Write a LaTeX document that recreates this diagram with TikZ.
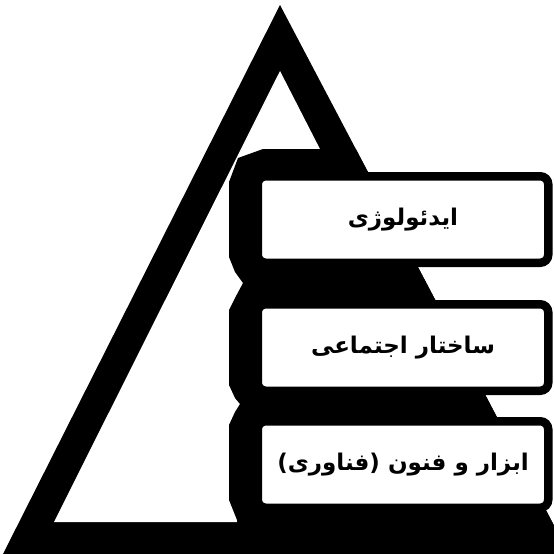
\documentclass[tikz,border=0pt]{standalone}
\usepackage{fontspec}
\newfontfamily\farsi[Script=Arabic]{DejaVu Sans}
\TeXXeTstate=1
\usetikzlibrary{positioning}
\begin{document}
\begin{tikzpicture}[x=1pt,y=-1pt,
  layer/.style={rectangle,rounded corners=8pt,draw=black,line width=8.5pt,fill=white,
               minimum width=290.5pt,minimum height=86.5pt,inner sep=0pt,
               font=\farsi\bfseries\fontsize{23}{28}\selectfont},
  slab/.style={fill=black}]
\useasboundingbox (0,0) rectangle (554,554);
% pyramid
\fill[black] (280,5) -- (3,554) -- (569,554) -- cycle;
\fill[white] (280,71) -- (54,522) -- (511,522) -- cycle;
\begin{scope}
  \clip (280,5) -- (3,554) -- (569,554) -- cycle;
  \fill[slab] (263,149) -- (238,158) -- (229,182) -- (229,257) -- (235,272)
    -- (243,283) -- (235,298) -- (229,310) -- (229,385) -- (235,398)
    -- (240,404) -- (235,412) -- (229,425) -- (229,500) -- (237,520)
    -- (240,554) -- (600,554) -- (600,149) -- cycle;
\end{scope}
\node[layer] (ideology) at (403,219.5) {\beginR ایدئولوژی\endR};
\node[layer] (society) at (403,347.5) {\beginR ساختار اجتماعی\endR};
\node[layer] (tools) at (403,464.5) {\beginR ابزار و فنون (فناوری)\endR};
\end{tikzpicture}
\end{document}
